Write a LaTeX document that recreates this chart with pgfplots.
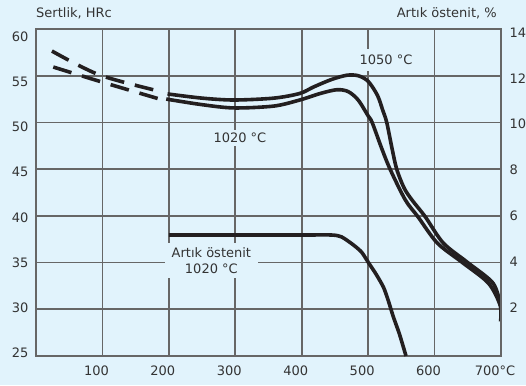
\documentclass[border=0pt]{standalone}
\usepackage{fontspec}
\setmainfont{DejaVu Sans}
\usepackage{pgfplots}
\pgfplotsset{compat=1.18}
\definecolor{bg}{HTML}{E1F3FC}
\definecolor{gridc}{HTML}{666666}
\definecolor{curve}{HTML}{231F20}
\definecolor{txt}{HTML}{333333}
\newcommand{\lblf}{\fontsize{13}{15.5}\selectfont}
\begin{document}
\begin{tikzpicture}
\fill[bg] (-36pt,-29pt) rectangle (490pt,356pt);
\begin{axis}[
  at={(0pt,0pt)}, anchor=south west,
  scale only axis, width=465pt, height=327pt,
  xmin=0, xmax=700, ymin=25, ymax=60,
  xtick={100,200,...,700},
  xticklabels={100,200,300,400,500,600,700°C},
  ytick={25,30,...,60},
  xmajorgrids, ymajorgrids,
  major grid style={color=gridc, line width=1.6pt, solid},
  axis line style={color=gridc, line width=1.6pt},
  major tick length=0pt,
  tick label style={font=\lblf, text=txt},
  /pgf/number format/assume math mode=true,
  xticklabel style={yshift=-6pt, xshift=-6pt},
  yticklabel style={xshift=-4pt, yshift={3pt-1.5pt*\ticknum}},
]
\node[fill=bg, inner xsep=3pt, inner ysep=6pt, font=\lblf, text=txt] at (axis cs:527,56.7) {1050 °C};
\node[fill=bg, inner xsep=3pt, inner ysep=3pt, font=\lblf, text=txt] at (axis cs:307,48.35) {1020 °C};
\node[fill=bg, inner xsep=7pt, inner ysep=5pt, font=\lblf, text=txt, align=center] at (axis cs:264,35.2) {Artık östenit\\1020 °C};
% 1050 C dashed
\addplot[curve, line width=3.6pt, smooth, dash pattern=on 19pt off 11pt] coordinates {
(24,57.64) (96,55.07) (191,53.25)};
% 1020 C dashed
\addplot[curve, line width=3.6pt, smooth, dash pattern=on 19pt off 11pt] coordinates {
(26,55.93) (99,54.33) (191,52.40)};
% 1050 C solid
\addplot[curve, line width=3.6pt, smooth, tension=0.5] coordinates {
(198,53.05) (250,52.6) (298,52.4) (358,52.6) (397,53.1) (418,53.8) (445,54.6) (468,55.05)
(485,55.0) (500,54.4) (514,52.9) (522,51.3) (528,50.0) (536,47.2) (543,45) (554,43.0)
(566,41.7) (586,39.9) (613,37.1) (649,35.05) (688,32.8) (699.3,30.4)};
% 1020 C solid
\addplot[curve, line width=3.6pt, smooth, tension=0.5] coordinates {
(196,52.5) (250,51.9) (298,51.55) (358,51.75) (397,52.4) (428,53.1) (453,53.5) (470,53.3)
(485,52.4) (500,50.7) (506,50) (520,47.3) (533,45) (556,41.7) (575,39.9) (604,37.1)
(641,35.05) (681,32.8) (698.8,30.4) (699.3,28.7)};
\end{axis}
\begin{axis}[
  at={(0pt,0pt)}, anchor=south west,
  scale only axis, width=465pt, height=327pt,
  xmin=0, xmax=700, ymin=0, ymax=14,
  hide x axis, axis y line*=right,
  ytick={2,4,...,14},
  axis line style={color=gridc, line width=1.6pt},
  major tick length=0pt,
  tick label style={font=\lblf, text=txt},
  /pgf/number format/assume math mode=true,
  yticklabel style={xshift=5pt, yshift={2pt-0.9pt*\ticknum}},
]
\addplot[curve, line width=3.6pt, smooth, tension=0.4] coordinates {
(200,5.18) (300,5.18) (400,5.18) (445,5.18) (460,5.1) (478,4.75) (490,4.45) (500,4.02)
(512,3.5) (523,2.95) (530,2.4) (538,1.67) (547,0.95) (557,0)};
\end{axis}
\node[anchor=base west, inner sep=0pt, font=\lblf, text=txt] at (0pt,338.5pt) {Sertlik, HRc};
\node[anchor=base east, inner sep=0pt, font=\lblf, text=txt] at (461pt,338.5pt) {Artık östenit, \%};
\pgfresetboundingbox
\path[use as bounding box] (-36pt,-29pt) rectangle (490pt,356pt);
\end{tikzpicture}
\end{document}
